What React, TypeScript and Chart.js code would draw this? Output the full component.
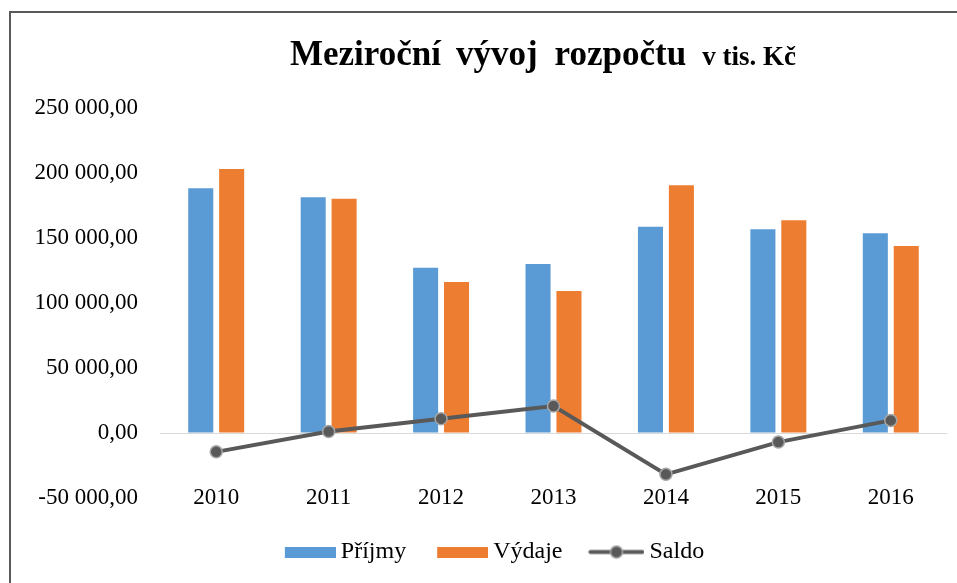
import React, { useEffect, useRef } from "react";
import { Chart, registerables } from "chart.js";

Chart.register(...registerables);

const years = ["2010", "2011", "2012", "2013", "2014", "2015", "2016"];
const prijmy = [188200, 181300, 127200, 130000, 158700, 156700, 153600];
const vydaje = [203100, 180200, 116200, 109200, 190500, 163600, 143900];
const saldo = [-14500, 1100, 11000, 20800, -31800, -7000, 9700];

const titleWords = ["Meziroční", "vývoj", "rozpočtu"];
const subtitle = "v tis. Kč";

const BLUE = "#5B9BD5";
const ORANGE = "#ED7D31";
const GRAY = "#595959";
const SERIF = "'Liberation Serif', 'Times New Roman', serif";

function fmt(v: number): string {
  const s = Math.abs(v)
    .toFixed(0)
    .replace(/\B(?=(\d{3})+(?!\d))/g, " ");
  return (v < 0 ? "-" : "") + s + ",00";
}

// legend symbol images (72px wide, symbol sits in the right part)
function rectImage(color: string): HTMLCanvasElement {
  const c = document.createElement("canvas");
  c.width = 72;
  c.height = 11;
  const x = c.getContext("2d")!;
  x.fillStyle = color;
  x.fillRect(21, 0, 51, 11);
  return c;
}

function lineImage(): HTMLCanvasElement {
  const c = document.createElement("canvas");
  c.width = 72;
  c.height = 15;
  const x = c.getContext("2d")!;
  x.strokeStyle = GRAY;
  x.lineWidth = 4;
  x.lineCap = "round";
  x.beginPath();
  x.moveTo(18, 7.5);
  x.lineTo(70, 7.5);
  x.stroke();
  x.beginPath();
  x.arc(44, 7.5, 6, 0, Math.PI * 2);
  x.fillStyle = GRAY;
  x.fill();
  x.lineWidth = 1.5;
  x.strokeStyle = "#a6a6a6";
  x.stroke();
  return c;
}

const framePlugin = {
  id: "frameAndTitle",
  afterDraw(chart: any) {
    const ctx = chart.ctx as CanvasRenderingContext2D;
    ctx.save();
    ctx.strokeStyle = GRAY;
    ctx.lineWidth = 2;
    ctx.beginPath();
    ctx.moveTo(10, 600);
    ctx.lineTo(10, 12);
    ctx.lineTo(980, 12);
    ctx.stroke();

    ctx.fillStyle = "#000";
    ctx.textBaseline = "alphabetic";
    ctx.textAlign = "left";
    ctx.font = `bold 35px ${SERIF}`;
    let x = 290;
    const y = 65;
    titleWords.forEach((w, i) => {
      ctx.fillText(w, x, y);
      x += ctx.measureText(w).width + (i === 0 ? 15 : i === 1 ? 17 : 16);
    });
    ctx.font = `bold 27px ${SERIF}`;
    ctx.fillText(subtitle, x, y);
    ctx.restore();
  },
};

export default function App() {
  const ref = useRef<HTMLCanvasElement | null>(null);

  useEffect(() => {
    document.body.style.margin = "0";
    document.body.style.overflow = "hidden";
    if (!ref.current) return;
    const images = [rectImage(BLUE), rectImage(ORANGE), lineImage()];
    const chart = new Chart(ref.current, {
      type: "bar",
      data: {
        labels: years,
        datasets: [
          {
            type: "bar",
            label: "Příjmy",
            data: prijmy,
            backgroundColor: BLUE,
            categoryPercentage: 0.55,
            barPercentage: 0.81,
            order: 1,
          },
          {
            type: "bar",
            label: "Výdaje",
            data: vydaje,
            backgroundColor: ORANGE,
            categoryPercentage: 0.55,
            barPercentage: 0.81,
            order: 1,
          },
          {
            type: "line",
            label: "Saldo",
            data: saldo,
            borderColor: GRAY,
            borderWidth: 4,
            backgroundColor: GRAY,
            pointRadius: 6,
            pointBackgroundColor: GRAY,
            pointBorderColor: "#a6a6a6",
            pointBorderWidth: 1.5,
            tension: 0,
            order: 0,
          } as any,
        ],
      },
      options: {
        animation: false,
        responsive: true,
        maintainAspectRatio: false,
        layout: { padding: { left: 28, right: 10, top: 108, bottom: 9 } },
        plugins: {
          title: { display: false },
          tooltip: { enabled: false },
          legend: {
            display: true,
            position: "bottom",
            labels: {
              usePointStyle: true,
              pointStyleWidth: 58,
              padding: 17,
              color: "#000",
              font: { family: SERIF, size: 24 },
              generateLabels: (ch: any) =>
                ch.data.datasets.map((ds: any, i: number) => ({
                  text: ds.label,
                  pointStyle: images[i],
                  datasetIndex: i,
                  hidden: false,
                  fontColor: "#000",
                  lineWidth: 0,
                  strokeStyle: "transparent",
                  fillStyle: "transparent",
                })),
            },
          },
        },
        scales: {
          x: {
            grid: { display: false, drawTicks: false },
            border: { display: false },
            ticks: {
              color: "#000",
              font: { family: SERIF, size: 23 },
              mirror: true,
              padding: -13.8,
              maxRotation: 0,
              autoSkip: false,
            },
            afterFit: (s: any) => {
              s.height = 25;
            },
          },
          y: {
            min: -50000,
            max: 250000,
            grid: {
              drawTicks: false,
              color: (c: any) => (c.tick && c.tick.value === 0 ? "#d9d9d9" : "transparent"),
              lineWidth: 1,
            },
            border: { display: false },
            ticks: {
              stepSize: 50000,
              padding: 22,
              color: "#000",
              font: { family: SERIF, size: 23 },
              callback: (v: any) => fmt(Number(v)),
            },
            afterFit: (s: any) => {
              s.width = 132;
            },
          },
        },
      },
      plugins: [framePlugin],
    });
    return () => chart.destroy();
  }, []);

  return (
    <div style={{ position: "relative", width: 957, height: 583 }}>
      <canvas ref={ref} />
    </div>
  );
}
